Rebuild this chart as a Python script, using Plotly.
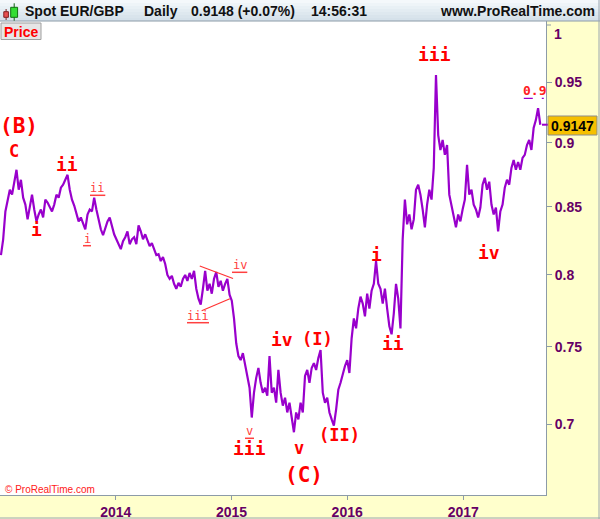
import math
import pandas as pd
import plotly.graph_objects as go

# ---------------- data (weekly readings of EUR/GBP) ----------------
eurgbp_2013 = [0.8141, 0.8257, 0.8465, 0.8555, 0.8631, 0.8593, 0.8685, 0.8786, 0.8631, 0.8708,
               0.8570, 0.8517, 0.8405, 0.8517, 0.8593, 0.8480, 0.8390, 0.8442, 0.8480, 0.8420,
               0.8555, 0.8532, 0.8495, 0.8465, 0.8517, 0.8593, 0.8570, 0.8647, 0.8670, 0.8708,
               0.8747, 0.8631, 0.8555, 0.8510, 0.8442, 0.8390, 0.8420, 0.8368, 0.8331, 0.8442,
               0.8480, 0.8465, 0.8570, 0.8480, 0.8390, 0.8331, 0.8287, 0.8346, 0.8390, 0.8420,
               0.8353, 0.8294]
eurgbp_2014 = [0.8257, 0.8221, 0.8185, 0.8243, 0.8272, 0.8316, 0.8221, 0.8257, 0.8272, 0.8221,
               0.8361, 0.8316, 0.8257, 0.8294, 0.8243, 0.8206, 0.8228, 0.8185, 0.8141, 0.8148,
               0.8098, 0.8127, 0.8077, 0.7998, 0.7970, 0.7991, 0.7935, 0.7900, 0.7942, 0.7914,
               0.7970, 0.7998, 0.7956, 0.8012, 0.7970, 0.8027, 0.7900, 0.7830, 0.7789, 0.7900,
               0.8027, 0.7886, 0.7935, 0.7865, 0.7970, 0.8019, 0.7914, 0.7956, 0.7886, 0.7935,
               0.7970, 0.7858]
eurgbp_2015 = [0.7816, 0.7693, 0.7524, 0.7438, 0.7412, 0.7458, 0.7373, 0.7295, 0.7231, 0.7041,
               0.7199, 0.7295, 0.7360, 0.7263, 0.7199, 0.7231, 0.7180, 0.7438, 0.7199, 0.7231,
               0.7135, 0.7347, 0.7199, 0.7116, 0.7167, 0.7073, 0.7135, 0.7041, 0.6949, 0.7073,
               0.7029, 0.7135, 0.7073, 0.7308, 0.7347, 0.7263, 0.7360, 0.7392, 0.7347, 0.7425,
               0.7478, 0.7199, 0.7135, 0.7167, 0.7073, 0.7029, 0.6991, 0.7091, 0.7218, 0.7263,
               0.7327, 0.7373]
eurgbp_2016 = [0.7412, 0.7327, 0.7558, 0.7693, 0.7625, 0.7761, 0.7844, 0.7796, 0.7707, 0.7865,
               0.7761, 0.7886, 0.7935, 0.8098, 0.7935, 0.7900, 0.7796, 0.7900, 0.7761, 0.7639,
               0.7585, 0.7727, 0.7935, 0.7830, 0.7625, 0.8257, 0.8555, 0.8368, 0.8442, 0.8331,
               0.8405, 0.8631, 0.8670, 0.8593, 0.8480, 0.8346, 0.8517, 0.8631, 0.8555, 0.8801,
               0.9562, 0.9063, 0.8943, 0.9023, 0.8904, 0.8983, 0.8593, 0.8517, 0.8442, 0.8346,
               0.8442, 0.8390, 0.8480]
eurgbp_2017 = [0.8555, 0.8825, 0.8593, 0.8631, 0.8517, 0.8480, 0.8420, 0.8495, 0.8670, 0.8724,
               0.8631, 0.8693, 0.8517, 0.8442, 0.8495, 0.8316, 0.8465, 0.8517, 0.8647, 0.8708,
               0.8670, 0.8801, 0.8864, 0.8786, 0.8848, 0.8786, 0.8880, 0.8904, 0.8983, 0.9023,
               0.8943, 0.9120, 0.9185, 0.9284, 0.9147]

prices = eurgbp_2013 + eurgbp_2014 + eurgbp_2015 + eurgbp_2016 + eurgbp_2017
dates = pd.date_range("2013-01-04", periods=len(prices), freq="7D")

year_ticks = ["2014-01-01", "2015-01-01", "2016-01-01", "2017-01-01"]
year_labels = ["2014", "2015", "2016", "2017"]
price_ticks = [0.7, 0.75, 0.8, 0.85, 0.9, 0.95]
price_labels = ["0.7", "0.75", "0.8", "0.85", "0.9", "0.95"]
last_price = "0.9147"

# triangle (wave iv) boundary lines
tri_upper_dates = ["2014-09-23", "2015-01-06"]
tri_upper_prices = [0.8062, 0.7973]
tri_lower_dates = ["2014-09-29", "2014-12-27"]
tri_lower_prices = [0.7746, 0.7830]
# target level marker (dashed)
target_dates = ["2017-07-11", "2017-09-12"]
target_prices = [0.9365, 0.9365]

# ---------------- layout helpers ----------------
W, H = 600, 519
ML, MR, MT, MB = 0, 54, 21, 24
PW, PH = W - ML - MR, H - MT - MB


def px(x):
    return (x - ML) / PW


def py(y):
    return (H - MB - y) / PH


GRID = "#8C9BA8"
PURPLE_TXT = "#660066"
AXFONT = "Liberation Sans, Arial, sans-serif"
MONO = "DejaVu Sans Mono, monospace"

fig = go.Figure()
fig.add_trace(go.Scatter(x=dates, y=prices, mode="lines",
                         line=dict(color="#9900CC", width=2.2), hoverinfo="skip",
                         showlegend=False))
fig.add_trace(go.Scatter(x=tri_upper_dates, y=tri_upper_prices, mode="lines",
                         line=dict(color="#FF3333", width=1.2), hoverinfo="skip",
                         showlegend=False))
fig.add_trace(go.Scatter(x=tri_lower_dates, y=tri_lower_prices, mode="lines",
                         line=dict(color="#FF3333", width=1.2), hoverinfo="skip",
                         showlegend=False))
fig.add_trace(go.Scatter(x=target_dates, y=target_prices, mode="lines",
                         line=dict(color="#9900CC", width=1.2, dash="dash"), hoverinfo="skip",
                         showlegend=False))

shapes = []


def rect(x0, y0, x1, y1, fill, line=None, lw=1):
    shapes.append(dict(type="rect", xref="paper", yref="paper",
                       x0=px(x0), x1=px(x1), y0=py(y1), y1=py(y0),
                       fillcolor=fill, layer="above",
                       line=dict(color=line if line else fill, width=lw if line else 0)))


def pline(x0, y0, x1, y1, color, lw=1, dash="solid"):
    shapes.append(dict(type="line", xref="paper", yref="paper",
                       x0=px(x0), x1=px(x1), y0=py(y0), y1=py(y1), layer="above",
                       line=dict(color=color, width=lw, dash=dash)))


# header gradient
hdr_cols = ["#F4F8FB", "#EEF4F8", "#E8F0F5", "#E3ECF2", "#DEE8EF", "#D9E4EC", "#D5E1EA"]
for i, c in enumerate(hdr_cols):
    rect(0, i * 3, W, i * 3 + 3, c)
pline(0, 21, W, 21, GRID)

# candle icon
pline(6.1, 9, 6.1, 20, "#7A2020")
rect(3.8, 11.7, 8.4, 17.3, "#E85050", "#802020")
pline(14.2, 3.3, 14.2, 20.7, "#106010")
rect(10.7, 7.3, 17.6, 17.3, "#33DD33", "#107010")

# Price box
rect(1, 23, 41, 39.5, "#E6E6E6", "#A0A0A0")

# last price tag
pline(542, 124.7, 548, 124.7, "#9900CC", 2)
rect(548, 116, 597, 135, "#F6C000", "#8C8C8C")

# tick for "1"
pline(546, 25, 551, 25, GRID)

# outer border
pline(599, 0, 599, H, "#9AA6B0")
pline(0, H - 1, W, H - 1, "#9AA6B0")

annotations = []


def text(t, x, y, size, color, family=AXFONT, xanchor="center", yanchor="middle", bold=True):
    annotations.append(dict(text=("<b>%s</b>" % t) if bold else t, xref="paper", yref="paper",
                            x=px(x), y=py(y), showarrow=False, xanchor=xanchor,
                            yanchor=yanchor, font=dict(family=family, size=size, color=color)))


# header text
text("Spot EUR/GBP", 23, 11.5, 14, "#111111", xanchor="left")
text("Daily", 142, 11.5, 14, "#111111", xanchor="left")
text("0.9148 (+0.07%)", 189, 11.5, 14, "#111111", xanchor="left")
text("14:56:31", 309, 11.5, 14, "#111111", xanchor="left")
text("www.ProRealTime.com", 597, 11.5, 14, "#111111", xanchor="right")
text("Price", 21, 31.5, 14, "#FF0000")
text(last_price, 572.5, 125.8, 14, "#000000")
text("1", 552, 24, 14, PURPLE_TXT, xanchor="left", yanchor="top")
text("© ProRealTime.com", 3, 489, 10, "#FF2020", xanchor="left", bold=False)
text("0.9", 534, 90, 13, "#FF2020", family=MONO)

# Elliott wave labels
big_labels = [("(B)", 19, 126, 21), ("C", 13.5, 151, 17), ("ii", 67, 164, 18),
              ("i", 36.7, 229, 18), ("iii", 249, 448, 18), ("iv", 281.7, 339, 18),
              ("(I)", 317.5, 339, 17), ("v", 298.8, 448, 17), ("(C)", 303.7, 474.5, 21),
              ("(II)", 339.3, 434.5, 17), ("i", 376.7, 255, 18), ("ii", 393.3, 343.5, 18),
              ("iii", 434.5, 54, 18), ("iv", 489, 252, 18)]
for t, x, y, s in big_labels:
    text(t, x, y, s, "#FF0000", family=MONO)

small_labels = [("ii", 97.3, 188, 90, 105.3, 195.3), ("i", 87, 238.5, 83, 91, 245.7),
                ("iv", 239.7, 265, 232, 247.3, 272.3), ("iii", 198, 316, 187, 209, 322.7),
                ("v", 249.3, 431, 245, 254, 438.3)]
for t, x, y, u0, u1, uy in small_labels:
    text(t, x, y, 12, "#FF4040", family=MONO, bold=False)
    pline(u0, uy, u1, uy, "#FF4040", 1.5)

fig.update_layout(
    width=W, height=H,
    margin=dict(l=ML, r=MR, t=MT, b=MB, pad=0),
    paper_bgcolor="#FFFFCC", plot_bgcolor="#FFFFFF",
    showlegend=False, hovermode=False,
    shapes=shapes, annotations=annotations,
    xaxis=dict(type="date", range=["2013-01-01", "2017-09-19"],
               tickvals=year_ticks, ticktext=["<b>%s</b>" % l for l in year_labels],
               ticks="outside", ticklen=4, tickcolor=GRID, showgrid=False, zeroline=False,
               showline=True, linecolor=GRID, mirror=True,
               tickfont=dict(family=AXFONT, size=14, color=PURPLE_TXT)),
    yaxis=dict(type="log", side="right",
               range=[math.log10(0.6570), math.log10(1.00358)],
               tickvals=price_ticks, ticktext=["<b>%s</b>" % l for l in price_labels],
               ticks="outside", ticklen=5, tickcolor=GRID, showgrid=False, zeroline=False,
               showline=True, linecolor=GRID, mirror=True,
               tickfont=dict(family=AXFONT, size=14, color=PURPLE_TXT)),
)

fig.write_html("out.html", config={"displayModeBar": False},
               post_script="document.body.style.margin='0';document.body.style.padding='0';")
